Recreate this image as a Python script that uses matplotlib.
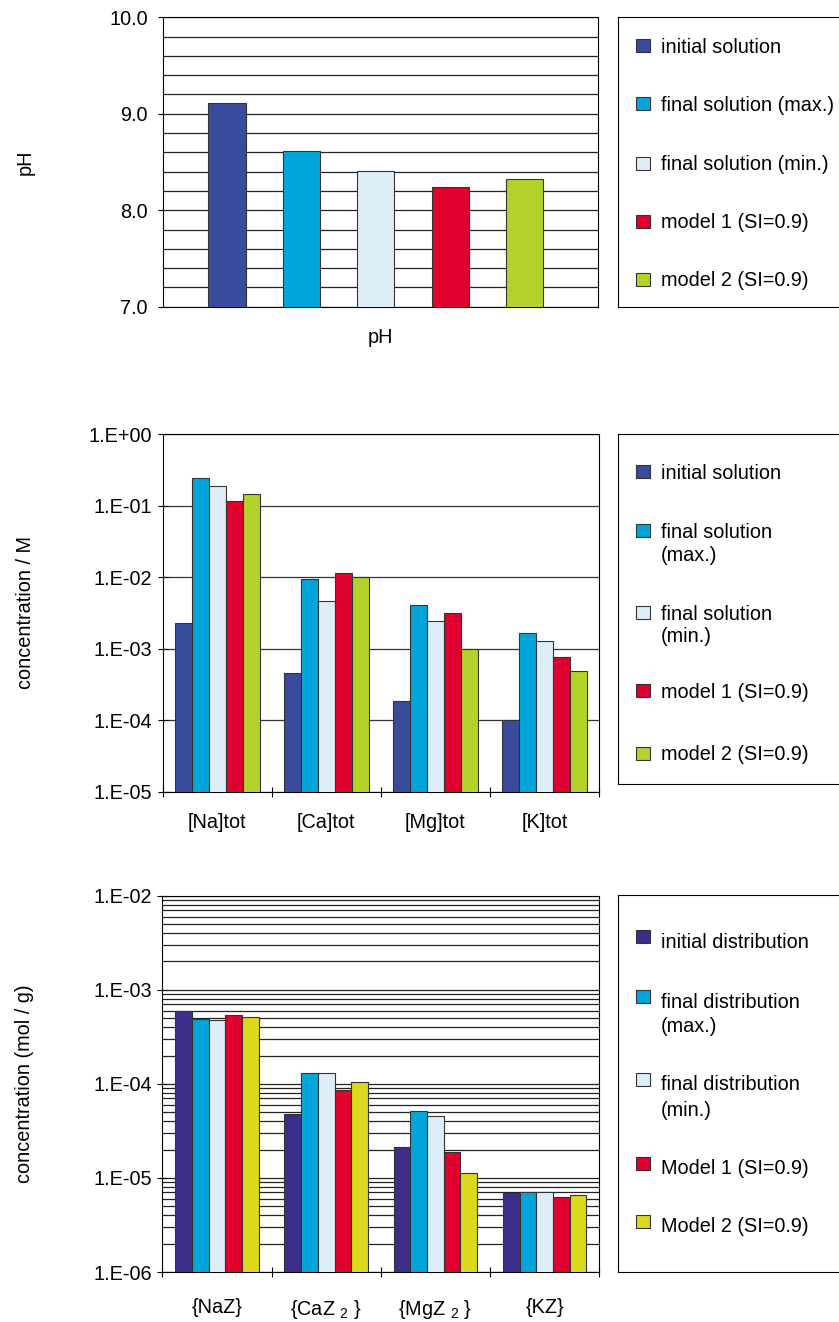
import numpy as np
import matplotlib
matplotlib.use("Agg")
import matplotlib.pyplot as plt
from matplotlib.patches import Rectangle
from matplotlib.ticker import FixedLocator, MultipleLocator, LogLocator, NullFormatter, FormatStrFormatter

plt.rcParams['font.family'] = ['Liberation Sans', 'DejaVu Sans']
plt.rcParams['mathtext.fontset'] = 'custom'
plt.rcParams['mathtext.rm'] = 'Liberation Sans'
plt.rcParams['mathtext.it'] = 'Liberation Sans'

# ---- data ----
ph_series = ["initial solution", "final solution (max.)", "final solution (min.)",
             "model 1 (SI=0.9)", "model 2 (SI=0.9)"]
ph_values = [9.11, 8.61, 8.41, 8.24, 8.32]

conc_categories = ["[Na]tot", "[Ca]tot", "[Mg]tot", "[K]tot"]
conc_series = ["initial solution", "final solution\n(max.)", "final solution\n(min.)",
               "model 1 (SI=0.9)", "model 2 (SI=0.9)"]
conc_initial = [2.3e-3, 4.6e-4, 1.87e-4, 1.0e-4]
conc_final_max = [0.245, 9.3e-3, 4.06e-3, 1.67e-3]
conc_final_min = [0.19, 4.6e-3, 2.43e-3, 1.29e-3]
conc_model1 = [0.115, 0.0113, 3.18e-3, 7.7e-4]
conc_model2 = [0.147, 0.0099, 1.0e-3, 4.9e-4]

dist_categories = ["{NaZ}", "{CaZ $_\\mathrm{2}$ }", "{MgZ $_\\mathrm{2}$ }", "{KZ}"]
dist_series = ["initial distribution", "final distribution\n(max.)", "final distribution\n(min.)",
               "Model 1 (SI=0.9)", "Model 2 (SI=0.9)"]
dist_initial = [6.0e-4, 4.77e-5, 2.11e-5, 6.92e-6]
dist_final_max = [4.9e-4, 1.32e-4, 5.19e-5, 7.03e-6]
dist_final_min = [4.73e-4, 1.32e-4, 4.59e-5, 7.03e-6]
dist_model1 = [5.35e-4, 8.6e-5, 1.87e-5, 6.27e-6]
dist_model2 = [5.13e-4, 1.045e-4, 1.12e-5, 6.53e-6]

colors_a = ["#394B9C", "#00A6DB", "#DDEEF9", "#E0002D", "#B2D42A"]
colors_b = ["#3A2E8A", "#00A6DB", "#DDEEF9", "#E0002D", "#DCD81E"]

FS = 14.3
EDGE = "#333333"
W, H = 839, 1322
fig = plt.figure(figsize=(W / 100, H / 100), dpi=100)


def px_axes(left, top, right, bottom):
    return fig.add_axes([left / W, 1 - bottom / H, (right - left) / W, (bottom - top) / H])


def style_frame(ax):
    for s in ax.spines.values():
        s.set_color("black")
        s.set_linewidth(0.8)


def legend_box(top, bottom, labels, colors, offsets, line_step, mark_dy=0):
    lax = px_axes(618.3, top, 618.3 + 400, bottom)
    style_frame(lax)
    hpx = bottom - top
    lax.set_xlim(0, 400)
    lax.set_ylim(hpx, 0)
    lax.set_xticks([])
    lax.set_yticks([])
    for lab, col, off in zip(labels, colors, offsets):
        lax.add_patch(Rectangle((17.7, off + mark_dy - 6.5), 13.5, 13, facecolor=col,
                                edgecolor=EDGE, linewidth=0.8))
        # one text per line so the marker sits beside the first line
        for k, line in enumerate(lab.split("\n")):
            lax.text(42.4, off + k * line_step, line, fontsize=FS,
                     va="center_baseline", ha="left")


# ---- panel 1: pH ----
ax1 = px_axes(162.7, 17.3, 597.7, 306.7)
style_frame(ax1)
bw1 = 0.0855
for i, (v, c) in enumerate(zip(ph_values, colors_a)):
    ax1.bar(-0.01 + (i - 2) * 2 * bw1, v, width=bw1, color=c, edgecolor=EDGE,
            linewidth=0.8, zorder=3)
ax1.set_xlim(-0.5, 0.5)
ax1.set_ylim(7, 10)
ax1.yaxis.set_major_locator(MultipleLocator(1.0))
ax1.yaxis.set_minor_locator(MultipleLocator(0.2))
ax1.yaxis.set_major_formatter(FormatStrFormatter("%.1f"))
ax1.grid(axis="y", which="both", color="#222222", linewidth=0.9, zorder=0)
ax1.set_axisbelow(True)
ax1.set_xticks([])
ax1.tick_params(axis="y", which="major", direction="out", length=3.6, width=0.8,
                labelsize=FS, pad=7)
ax1.tick_params(axis="y", which="minor", length=0)
ax1.set_xlabel("pH", fontsize=FS, labelpad=15)
ax1.set_ylabel("pH", fontsize=FS, va="center")
ax1.yaxis.set_label_coords(-0.315, 0.5)
legend_box(17.3, 306.7, ph_series, colors_a, [27.7, 85.7, 145.7, 203.7, 261.7], 23)


def grouped_log(ax, cats, series_vals, colors, bw, ylo, yhi, minor_grid):
    ax.set_yscale("log")
    x = np.arange(len(cats))
    for i, (vals, c) in enumerate(zip(series_vals, colors)):
        ax.bar(x + (i - 2) * bw, vals, width=bw, color=c, edgecolor=EDGE,
               linewidth=0.8, zorder=3)
    ax.set_xlim(-0.5, len(cats) - 0.5)
    ax.set_ylim(ylo, yhi)
    ax.yaxis.set_major_locator(LogLocator(base=10, numticks=20))
    ax.yaxis.set_major_formatter(
        matplotlib.ticker.FuncFormatter(lambda v, p: "1.E%+03d" % int(round(np.log10(v)))))
    if minor_grid:
        ax.yaxis.set_minor_locator(LogLocator(base=10, subs=np.arange(2, 10), numticks=20))
        ax.grid(axis="y", which="both", color="#222222", linewidth=0.9, zorder=0)
    else:
        ax.yaxis.set_minor_locator(FixedLocator([]))
        ax.grid(axis="y", which="major", color="#333333", linewidth=0.9, zorder=0)
    ax.yaxis.set_minor_formatter(NullFormatter())
    ax.set_axisbelow(True)
    ax.tick_params(axis="y", which="major", direction="inout", length=7.2, width=0.8,
                   labelsize=FS, pad=4)
    ax.tick_params(axis="y", which="minor", length=0)
    ax.set_xticks(x)
    ax.set_xticklabels(cats, fontsize=FS)
    ax.xaxis.set_minor_locator(FixedLocator(np.arange(len(cats) + 1) - 0.5))
    ax.tick_params(axis="x", which="major", length=0)
    ax.tick_params(axis="x", which="minor", direction="inout", length=7.2, width=0.8)


# ---- panel 2: total concentrations ----
ax2 = px_axes(162.7, 434, 599, 791.7)
style_frame(ax2)
grouped_log(ax2, conc_categories,
            [conc_initial, conc_final_max, conc_final_min, conc_model1, conc_model2],
            colors_a, 0.155, 1e-5, 1.0, False)
ax2.tick_params(axis="x", which="major", pad=15)
ax2.set_ylabel("concentration / M", fontsize=FS, va="center")
ax2.yaxis.set_label_coords(-0.315, 0.5)
legend_box(434, 784, conc_series, colors_a, [37.7, 96, 178, 256, 319], 23)

# ---- panel 3: exchanger distribution ----
ax3 = px_axes(162.3, 895.7, 599.3, 1272)
style_frame(ax3)
grouped_log(ax3, dist_categories,
            [dist_initial, dist_final_max, dist_final_min, dist_model1, dist_model2],
            colors_b, 0.153, 1e-6, 1e-2, True)
ax3.tick_params(axis="x", which="major", pad=19)
ax3.set_ylabel("concentration (mol / g)", fontsize=FS, va="center")
ax3.yaxis.set_label_coords(-0.315, 0.5)
legend_box(895, 1271.7, dist_series, colors_b, [45, 105, 188, 272, 330], 25, mark_dy=-3.5)

fig.savefig("out.png", dpi=100)
